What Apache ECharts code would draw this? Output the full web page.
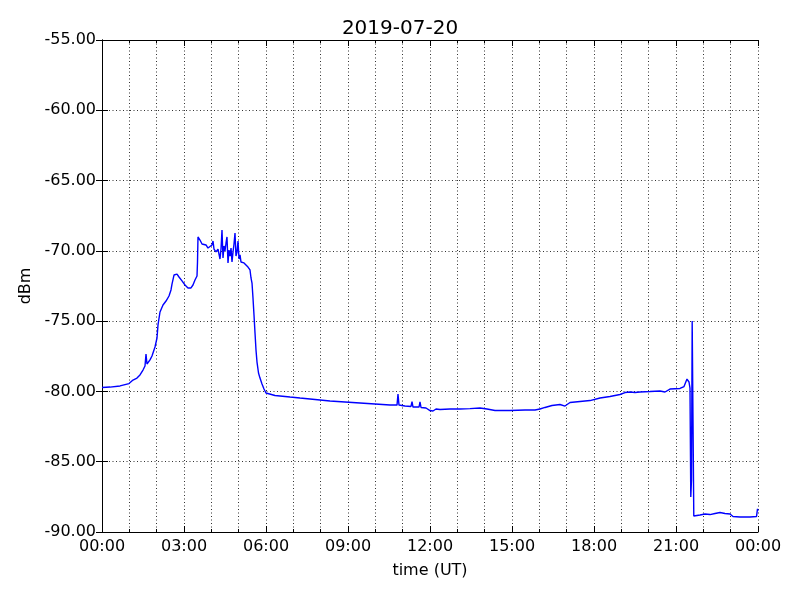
<!DOCTYPE html>
<html>
<head>
<meta charset="utf-8">
<script src="https://cdn.jsdelivr.net/npm/echarts@6/dist/echarts.min.js"></script>
<style>html,body{margin:0;padding:0;background:#fff}#c{width:800px;height:600px}</style>
</head>
<body>
<div id="c"></div>
<script>
// time in hours (UT), signal in dBm
const times = [0.000,0.293,0.659,0.988,1.134,1.280,1.390,1.500,1.573,1.610,1.646,1.756,1.829,1.939,2.012,2.049,2.122,2.177,2.232,2.287,2.342,2.396,2.451,2.524,2.561,2.634,2.744,2.817,2.927,3.037,3.146,3.256,3.329,3.402,3.476,3.494,3.512,3.585,3.659,3.732,3.805,3.878,3.951,4.024,4.061,4.098,4.171,4.244,4.317,4.354,4.390,4.427,4.463,4.500,4.537,4.573,4.610,4.646,4.683,4.720,4.756,4.793,4.829,4.866,4.902,4.939,4.976,5.012,5.049,5.085,5.122,5.195,5.268,5.341,5.415,5.451,5.488,5.524,5.561,5.598,5.634,5.671,5.726,5.780,5.854,5.927,6.000,6.073,6.329,6.878,7.244,7.793,8.341,8.890,9.439,9.988,10.537,10.793,10.829,10.866,11.085,11.305,11.342,11.378,11.598,11.634,11.671,11.854,12.000,12.110,12.220,12.366,12.732,13.098,13.463,13.829,14.085,14.378,14.927,15.476,15.841,16.024,16.207,16.463,16.756,16.939,17.122,17.488,17.854,18.220,18.585,18.951,19.134,19.317,19.500,19.683,20.049,20.415,20.598,20.780,21.146,21.293,21.402,21.476,21.512,21.541,21.567,21.592,21.622,21.651,21.878,22.061,22.244,22.427,22.610,22.793,22.976,23.085,23.341,23.707,23.945,23.982,24.000];
const dbm = [-79.72,-79.69,-79.61,-79.44,-79.19,-79.05,-78.83,-78.48,-78.19,-77.34,-78.05,-77.76,-77.48,-76.84,-76.20,-75.27,-74.35,-74.10,-73.85,-73.75,-73.57,-73.45,-73.21,-72.78,-72.36,-71.72,-71.65,-71.86,-72.14,-72.43,-72.64,-72.64,-72.43,-72.07,-71.79,-70.79,-69.01,-69.23,-69.51,-69.65,-69.58,-69.80,-69.73,-69.58,-69.30,-69.87,-70.08,-69.87,-70.58,-69.87,-68.52,-70.51,-69.65,-70.01,-69.44,-69.01,-70.86,-69.94,-70.37,-69.80,-70.79,-70.08,-69.51,-68.73,-70.37,-70.08,-69.30,-70.58,-70.29,-70.79,-70.65,-70.86,-70.94,-71.15,-71.36,-71.93,-72.29,-73.35,-74.56,-75.84,-77.05,-77.91,-78.69,-79.05,-79.47,-79.83,-80.11,-80.25,-80.29,-80.40,-80.47,-80.57,-80.68,-80.75,-80.82,-80.89,-80.97,-80.97,-80.18,-80.97,-81.04,-81.07,-80.72,-81.11,-81.11,-80.75,-81.14,-81.18,-81.36,-81.39,-81.25,-81.29,-81.25,-81.25,-81.22,-81.18,-81.25,-81.36,-81.36,-81.32,-81.32,-81.25,-81.14,-81.00,-80.93,-81.04,-80.79,-80.72,-80.65,-80.47,-80.36,-80.22,-80.08,-80.04,-80.08,-80.04,-80.01,-79.97,-80.04,-79.83,-79.79,-79.65,-79.12,-79.33,-79.76,-87.51,-86.30,-74.99,-82.03,-88.86,-88.79,-88.72,-88.76,-88.68,-88.61,-88.68,-88.72,-88.90,-88.93,-88.93,-88.90,-88.36,-88.50];
const xTicks = [0,3,6,9,12,15,18,21,24];
const yTicks = [-90,-85,-80,-75,-70,-65,-60,-55];
const titleText = '2019-07-20';
const xName = 'time (UT)';
const yName = 'dBm';

const FONT = 'DejaVu Sans';
const pad = n => (n < 10 ? '0' : '') + n;
const chart = echarts.init(document.getElementById('c'), null, {renderer: 'canvas'});
const dotted = {color: '#333', width: 1, type: [1, 2.5]};
const common = {
  axisLine: {show: true, lineStyle: {color: '#000', width: 1}},
  axisTick: {show: true, inside: true, length: 6, lineStyle: {color: '#000'}},
};
chart.setOption({
  animation: false,
  backgroundColor: '#fff',
  title: {text: titleText, left: 'center', top: 14,
    textStyle: {fontFamily: FONT, fontSize: 20, fontWeight: 'normal', color: '#000'}},
  grid: {left: 102, right: 42, top: 40, bottom: 68, containLabel: false},
  xAxis: [{
    type: 'value', min: xTicks[0], max: xTicks[xTicks.length - 1], interval: 3,
    name: xName, nameLocation: 'middle', nameGap: 31,
    nameTextStyle: {fontFamily: FONT, fontSize: 16, color: '#000'},
    ...common,
    minorTick: {show: true, splitNumber: 3, length: 3, lineStyle: {color: '#000'}},
    minorSplitLine: {show: true, lineStyle: dotted},
    splitLine: {show: true, lineStyle: dotted},
    axisLabel: {fontFamily: FONT, fontSize: 16, color: '#000', margin: 7,
      formatter: v => pad(Math.round(v) % 24) + ':00'}
  }, {
    type: 'value', position: 'top', min: xTicks[0], max: xTicks[xTicks.length - 1], interval: 3,
    ...common,
    minorTick: {show: true, splitNumber: 3, length: 3, lineStyle: {color: '#000'}},
    splitLine: {show: false}, axisLabel: {show: false}
  }],
  yAxis: [{
    type: 'value', min: yTicks[0], max: yTicks[yTicks.length - 1], interval: 5,
    name: yName, nameLocation: 'middle', nameGap: 66,
    nameTextStyle: {fontFamily: FONT, fontSize: 16, color: '#000'},
    ...common,
    splitLine: {show: true, lineStyle: dotted},
    axisLabel: {fontFamily: FONT, fontSize: 16, color: '#000', margin: 6,
      formatter: v => v.toFixed(2)}
  }, {
    type: 'value', position: 'right', min: yTicks[0], max: yTicks[yTicks.length - 1], interval: 5,
    ...common, splitLine: {show: false}, axisLabel: {show: false}
  }],
  series: [{
    type: 'line', xAxisIndex: 0, yAxisIndex: 0,
    data: times.map((t, i) => [t, dbm[i]]),
    showSymbol: false, symbol: 'none',
    lineStyle: {color: '#0000ff', width: 1.4},
    emphasis: {disabled: true}
  }]
});
</script>
</body>
</html>
